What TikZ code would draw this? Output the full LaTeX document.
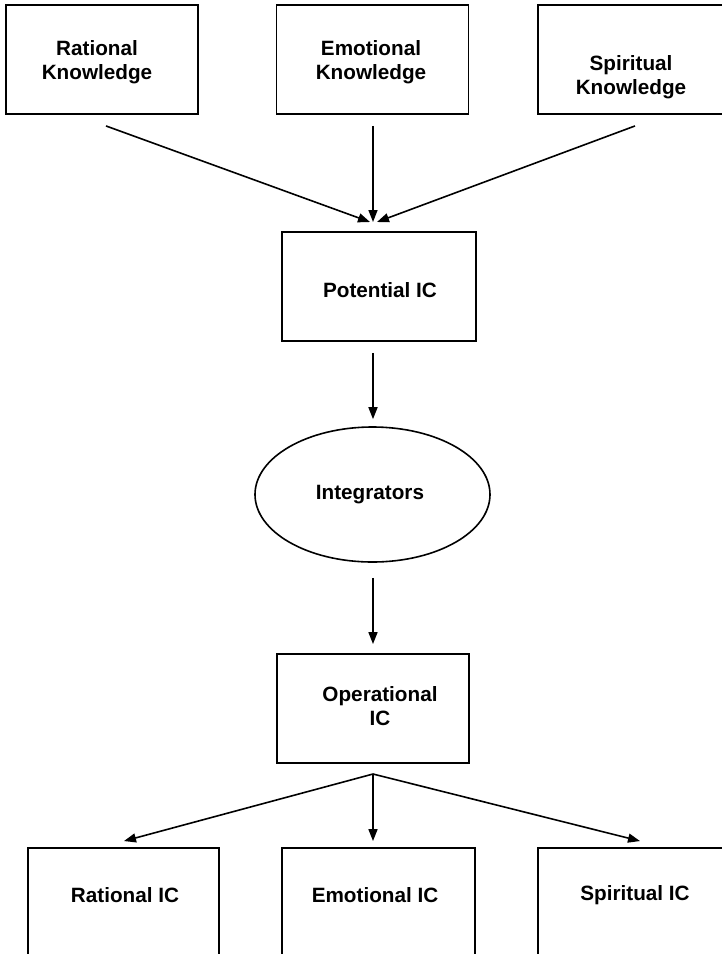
\documentclass[tikz,border=0pt]{standalone}
\usepackage{fontspec}
\setmainfont{Liberation Sans}
\usetikzlibrary{arrows.meta,shapes.geometric,calc}
\begin{document}
\begin{tikzpicture}[x=1pt,y=-1pt,
  box/.style={draw,line width=1.9pt,rectangle,inner sep=0pt,minimum width=192pt,minimum height=109pt},
  lowbox/.style={box,minimum height=160pt},
  oval/.style={draw,line width=1.6pt,ellipse,inner sep=0pt,minimum width=235pt,minimum height=135pt},
  lbl/.style={font=\bfseries\fontsize{20.7}{24}\selectfont,align=center,inner sep=0pt},
  arr/.style={line width=1.6pt,-{Triangle[length=12pt,width=9pt]}}]
\useasboundingbox (0,0) rectangle (722,954);
\clip (0,0) rectangle (722,954);
% top boxes
\node[box] (rk) at (102,59.5) {};
\node[box] (ek) at (372.5,59.5) {};
\node[box,minimum width=193pt] (sk) at (634.5,59.5) {};
\node[lbl] (rkt) at (97,62) {Rational\\Knowledge};
\node[lbl] (ekt) at (371,62) {Emotional\\Knowledge};
\node[lbl] (skt) at (631,77) {Spiritual\\Knowledge};
% potential
\node[box,minimum width=194pt] (pic) at (379,286.5) {};
\node[lbl] (pict) at (380,290) {Potential IC};
% integrators
\node[oval] (ell) at (372.5,494.5) {};
\node[lbl] (ellt) at (370,495) {Integrators};
% operational
\node[box] (oic) at (373,708.5) {};
\node[lbl] (oict) at (380,706) {Operational\\IC};
% bottom boxes
\node[lowbox,minimum width=191pt] (ric) at (123.5,928) {};
\node[lowbox,minimum width=193pt] (eic) at (378.5,928) {};
\node[lowbox,minimum width=193pt] (sic) at (634.5,928) {};
\node[lbl] (rict) at (125,895) {Rational IC};
\node[lbl] (eict) at (375,895) {Emotional IC};
\node[lbl] (sict) at (635,895) {Spiritual IC};
% connectors top
\coordinate (pin) at (373,222);
\draw[arr] ($(rk.south)+(4,11)$) -- ($(pin)+(-3,0)$);
\draw[arr] ($(ek.south)+(0.5,11)$) -- (pin);
\draw[arr] ($(sk.south)+(0.5,11)$) -- ($(pin)+(4,0)$);
% middle
\draw[arr] ($(pic.south -| ell.north)+(0.5,11)$) -- ($(ell.north)+(0.5,-7)$);
\draw[arr] ($(ell.south)+(0.5,15)$) -- ($(oic.north)+(0,-9)$);
% bottom
\coordinate (pout) at (373,774);
\draw[arr] (pout) -- ($(ric.north)+(0.5,-6)$);
\draw[arr] (pout) -- ($(eic.north)+(-5.5,-6)$);
\draw[arr] (pout) -- ($(sic.north)+(5.5,-6)$);
\end{tikzpicture}
\end{document}
